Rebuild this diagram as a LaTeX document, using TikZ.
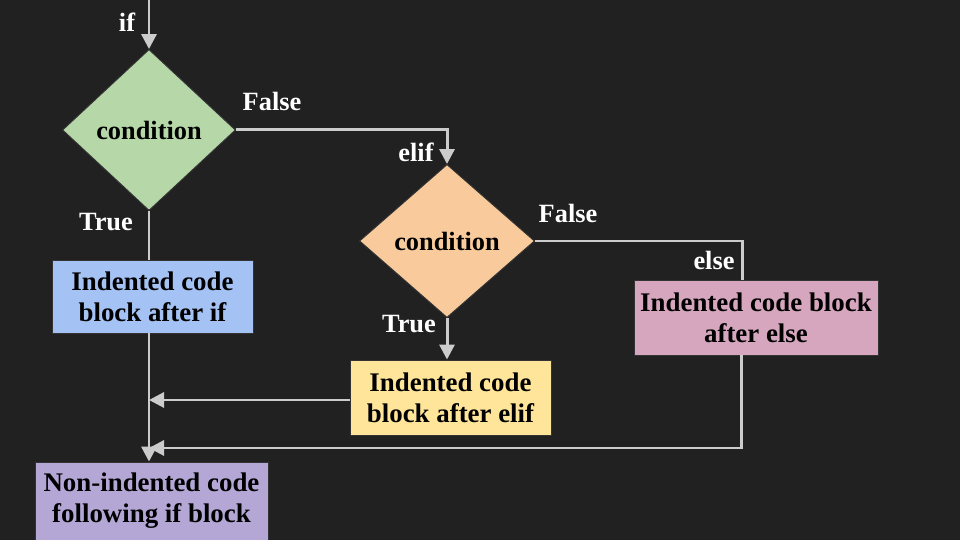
\documentclass[tikz,border=0pt]{standalone}
\usepackage{fontspec}
\setmainfont{Liberation Serif}
\usetikzlibrary{shapes.geometric,arrows.meta}
\definecolor{BG}{HTML}{212121}
\definecolor{LN}{HTML}{cccccc}
\definecolor{CondIf}{HTML}{b6d7a8}
\definecolor{CondElif}{HTML}{f9cb9c}
\definecolor{BlkIf}{HTML}{a4c2f4}
\definecolor{BlkElif}{HTML}{ffe599}
\definecolor{BlkElse}{HTML}{d5a6bd}
\definecolor{BlkNext}{HTML}{b4a7d6}
\tikzset{
  cond/.style={diamond, draw=black!80, line width=0.5pt, inner sep=0pt, align=center,
    font=\fontsize{15}{17.5}\selectfont\bfseries},
  blk/.style={rectangle, draw=black!80, line width=0.5pt, inner sep=0pt, align=center,
    font=\fontsize{15.3}{17.6}\selectfont\bfseries},
  lbl/.style={text=white, font=\fontsize{15}{17.5}\selectfont\bfseries},
  flow/.style={draw=LN, line width=1.7pt},
  arr/.style={flow, -{Triangle[length=0.3cm,width=0.3cm]}},
}
\begin{document}
\begin{tikzpicture}%
\fill[BG] (0,0) rectangle (19.2,10.8);%
\useasboundingbox (0,0) rectangle (19.2,10.8);%
% decisions
\node[cond, fill=CondIf, minimum width=3.46cm, minimum height=3.22cm] (condif) at (2.98, 8.2) {condition};%
\node[cond, fill=CondElif, minimum width=3.5cm, minimum height=3.06cm] (condelif) at (8.94, 5.98) {condition};%
% code blocks
\node[blk, fill=BlkIf, minimum width=4.02cm, minimum height=1.46cm] (blkif) at (3.05, 4.87) {Indented code\\block after if};%
\node[blk, fill=BlkElif, minimum width=4.02cm, minimum height=1.5cm] (blkelif) at (9.01, 2.85) {Indented code\\block after elif};%
\node[blk, fill=BlkElse, minimum width=4.88cm, minimum height=1.5cm] (blkelse) at (15.12, 4.45) {Indented code block\\after else};%
\node[blk, fill=BlkNext, minimum width=4.66cm, minimum height=1.56cm] (blknext) at (3.03, 0.78) {Non-indented code\\following if block};%
% helper points
\coordinate (start) at (2.98, 10.8);%
\coordinate (elsecorner) at (14.84, 5.98);%
\coordinate (elsedown) at (14.82, 1.84);%
\coordinate (mergeelse) at (2.98, 1.84);%
\coordinate (mergeelif) at (2.98, 2.8);%
% connectors
\draw[arr] (start) -- (condif.north);%
\draw[arr] (condif.east) -| (condelif.north);%
\draw[flow] (condif.south) -- (condif.south |- blkif.north);%
\draw[arr] (condelif.south) -- (condelif.south |- blkelif.north);%
\draw[flow] (condelif.east) -| (elsecorner |- blkelse.north);%
\draw[arr] (condif.south |- blkif.south) -- (condif.south |- blknext.north);%
\draw[arr] (blkelif.west |- mergeelif) -- (mergeelif);%
\draw[arr] (elsedown |- blkelse.south) -- (elsedown) -- (mergeelse);%
% labels
\node[lbl] (lif) at (2.54, 10.36) {if};%
\node[lbl] (lfalse1) at (5.44, 8.78) {False};%
\node[lbl] (lelif) at (8.32, 7.76) {elif};%
\node[lbl] (ltrue1) at (2.12, 6.36) {True};%
\node[lbl] (lfalse2) at (11.36, 6.54) {False};%
\node[lbl] (ltrue2) at (8.18, 4.32) {True};%
\node[lbl] (lelse) at (14.28, 5.6) {else};%
\end{tikzpicture}
\end{document}
